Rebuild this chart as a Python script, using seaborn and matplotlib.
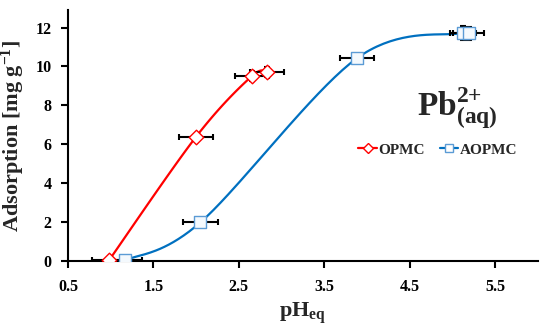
import numpy as np
import matplotlib
matplotlib.use("Agg")
import matplotlib.pyplot as plt
import seaborn as sns
import pandas as pd
from matplotlib.lines import Line2D

# ---- data ----
opmc_ph = [0.98, 2.00, 2.65, 2.83]
opmc_ads = [0.05, 6.40, 9.50, 9.70]
opmc_xerr = [0.20, 0.20, 0.20, 0.20]
opmc_yerr = [0.05, 0.10, 0.25, 0.25]

aopmc_ph = [1.17, 2.05, 3.88, 5.12, 5.19]
aopmc_ads = [0.05, 2.00, 10.42, 11.72, 11.70]
aopmc_xerr = [0.20, 0.20, 0.20, 0.15, 0.18]
aopmc_yerr = [0.05, 0.10, 0.15, 0.35, 0.35]

x_ticks = [0.5, 1.5, 2.5, 3.5, 4.5, 5.5]
y_ticks = [0, 2, 4, 6, 8, 10, 12]

RED = "#FF0000"
BLUE_LINE = "#0070C0"
BLUE_MARK = "#5B9BD5"


def smooth_curve(xs, ys, n=40):
    """Excel-like smoothed line (Catmull-Rom as cubic Bezier) through the points."""
    P = np.column_stack([xs, ys]).astype(float)
    pts = np.vstack([P[0], P, P[-1]])
    out = []
    t = np.linspace(0, 1, n)[:, None]
    for i in range(1, len(pts) - 2):
        p0, p1, p2, p3 = pts[i - 1], pts[i], pts[i + 1], pts[i + 2]
        c1 = p1 + (p2 - p0) / 6.0
        c2 = p2 - (p3 - p1) / 6.0
        seg = ((1 - t) ** 3) * p1 + 3 * ((1 - t) ** 2) * t * c1 + 3 * (1 - t) * t ** 2 * c2 + t ** 3 * p2
        out.append(seg if i == 1 else seg[1:])
    arr = np.vstack(out)
    return arr[:, 0], arr[:, 1]


sns.set_theme(style="ticks")
plt.rcParams["font.family"] = ["Liberation Serif", "DejaVu Serif"]
plt.rcParams["font.weight"] = "bold"
plt.rcParams["mathtext.fontset"] = "custom"
plt.rcParams["mathtext.rm"] = "Liberation Serif:bold"
plt.rcParams["mathtext.it"] = "Liberation Serif:bold"
plt.rcParams["mathtext.bf"] = "Liberation Serif:bold"

fig = plt.figure(figsize=(5.5, 3.36), dpi=100)
ax = fig.add_axes([68 / 550, 1 - 261.3 / 336, 470 / 550, 251.3 / 336])

# smooth curves
for xs, ys, col in [(opmc_ph, opmc_ads, RED), (aopmc_ph, aopmc_ads, BLUE_LINE)]:
    cx, cy = smooth_curve(xs, ys)
    sns.lineplot(x=cx, y=cy, ax=ax, color=col, linewidth=1.6, sort=False,
                 estimator=None, zorder=2)

# error bars
ax.errorbar(opmc_ph, opmc_ads, xerr=opmc_xerr, yerr=opmc_yerr, fmt="none",
            ecolor="black", elinewidth=1.5, capsize=2, capthick=1.5, zorder=3)
ax.errorbar(aopmc_ph, aopmc_ads, xerr=aopmc_xerr, yerr=aopmc_yerr, fmt="none",
            ecolor="black", elinewidth=1.5, capsize=2, capthick=1.5, zorder=3)

# markers
df_o = pd.DataFrame({"pH": opmc_ph, "ads": opmc_ads})
df_a = pd.DataFrame({"pH": aopmc_ph, "ads": aopmc_ads})
sns.scatterplot(data=df_o, x="pH", y="ads", ax=ax, marker="D", s=55,
                facecolor="white", edgecolor=RED, linewidth=1.0, zorder=4)
sns.scatterplot(data=df_a, x="pH", y="ads", ax=ax, marker="s", s=80,
                facecolor="#F4F9FD", edgecolor=BLUE_MARK, linewidth=1.0, zorder=4)

ax.set_xlim(0.5, 6.0)
ax.set_ylim(0, 12.9)
ax.set_xticks(x_ticks)
ax.set_xticklabels([f"{v:.1f}" for v in x_ticks])
ax.set_yticks(y_ticks)
ax.set_yticklabels([str(v) for v in y_ticks])
ax.tick_params(axis="both", direction="out", length=5, width=1.5, labelsize=11.5,
               colors="black")
ax.tick_params(axis="x", pad=8)
ax.tick_params(axis="y", pad=7)
for lab in ax.get_xticklabels() + ax.get_yticklabels():
    lab.set_fontweight("bold")
for s in ["top", "right"]:
    ax.spines[s].set_visible(False)
for s in ["left", "bottom"]:
    ax.spines[s].set_linewidth(1.5)
    ax.spines[s].set_color("black")

ax.set_xlabel("pH$_{eq}$", fontsize=16, fontweight="bold", labelpad=4)
ax.set_ylabel("Adsorption [mg g$^{-1}$]", fontsize=16, fontweight="bold", labelpad=6)

ax.text(0.743, 0.582, "Pb$^{2{+}}_{(aq)}$", transform=ax.transAxes, fontsize=24,
        fontweight="bold", ha="left", va="baseline")

handles = [
    Line2D([], [], color=RED, linewidth=1.6, marker="D", markersize=5,
           markerfacecolor="white", markeredgecolor=RED),
    Line2D([], [], color=BLUE_LINE, linewidth=1.6, marker="s", markersize=6,
           markerfacecolor="white", markeredgecolor=BLUE_MARK),
]
ax.legend(handles, ["OPMC", "AOPMC"], loc="center", bbox_to_anchor=(0.787, 0.443),
          ncol=2, frameon=False, handlelength=1.2, handletextpad=0.1,
          columnspacing=1.0, prop={"family": "Liberation Serif", "weight": "bold", "size": 11})

fig.savefig("out.png", dpi=100)
